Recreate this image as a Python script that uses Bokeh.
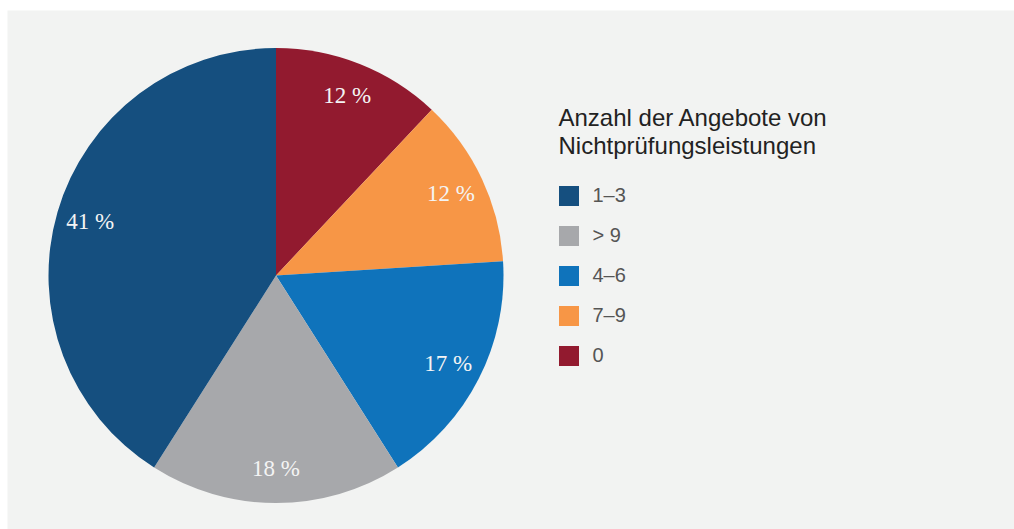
import math
from bokeh.plotting import figure
from bokeh.models import ColumnDataSource, Legend, LegendItem, Label, Range1d
from bokeh.core.properties import value
from bokeh.embed import file_html
from bokeh.resources import INLINE

# ---- data (clockwise from 12 o'clock) ----
categories = ["0", "7–9", "4–6", "> 9", "1–3"]
shares = [12, 12, 17, 18, 41]
colors = ["#921a2f", "#f79646", "#0f73bb", "#a7a8ab", "#154f7f"]
legend_order = ["1–3", "> 9", "4–6", "7–9", "0"]
legend_title = ["Anzahl der Angebote von", "Nichtprüfungsleistungen"]

W, H = 1014, 529
LEFT, TOP = 7, 10
FW, FH = W - LEFT, H - TOP
BG = "#f2f3f2"

# pie geometry (data units = px inside the frame)
cx, cy, R = 268.5, 254.0, 227.5
r_lab = 0.85 * R

total = float(sum(shares))
starts, ends, lx, ly, labels = [], [], [], [], []
cum = 0.0
for s in shares:
    a0 = math.pi / 2 - 2 * math.pi * cum / total
    cum += s
    a1 = math.pi / 2 - 2 * math.pi * cum / total
    starts.append(a0)
    ends.append(a1)
    mid = (a0 + a1) / 2
    lx.append(cx + r_lab * math.cos(mid))
    ly.append(cy + r_lab * math.sin(mid))
    labels.append(f"{s} %")

src = ColumnDataSource(dict(cat=categories, start=starts, end=ends, color=colors,
                            lx=lx, ly=ly, lab=labels))

p = figure(width=W, height=H, output_backend="svg", toolbar_location=None,
           x_range=Range1d(0, FW), y_range=Range1d(0, FH),
           min_border=0, min_border_top=TOP, min_border_left=LEFT)
p.axis.visible = False
p.grid.visible = False
p.outline_line_color = None
p.background_fill_color = BG
p.border_fill_color = "white"

wr = p.wedge(x=cx, y=cy, radius=R, start_angle="start", end_angle="end",
             direction="clock", fill_color="color", line_color=None, source=src)

p.text(x="lx", y="ly", text="lab", source=src, text_align="center",
       text_baseline="middle", text_color="#f4f4f4",
       text_font=value("Liberation Serif"), text_font_size="23px")

items = [LegendItem(label=c, renderers=[wr], index=categories.index(c)) for c in legend_order]
legend = Legend(items=items, location=(548.5, 161.5), orientation="vertical",
                glyph_width=25, glyph_height=25, label_height=20, label_width=10,
                spacing=15, padding=0, margin=0, label_standoff=12,
                label_text_font="Liberation Sans", label_text_font_size="20px",
                label_text_color="#555555", border_line_color=None,
                background_fill_alpha=0)
p.add_layout(legend, "center")

for i, t in enumerate(legend_title):
    p.add_layout(Label(x=551, y=FH - (107 + 28 * i), x_units="screen", y_units="screen",
                       text=t, text_font="Liberation Sans", text_font_size="24px",
                       text_color="#222222", text_baseline="alphabetic"))

open("out.html", "w").write(file_html(p, INLINE))
